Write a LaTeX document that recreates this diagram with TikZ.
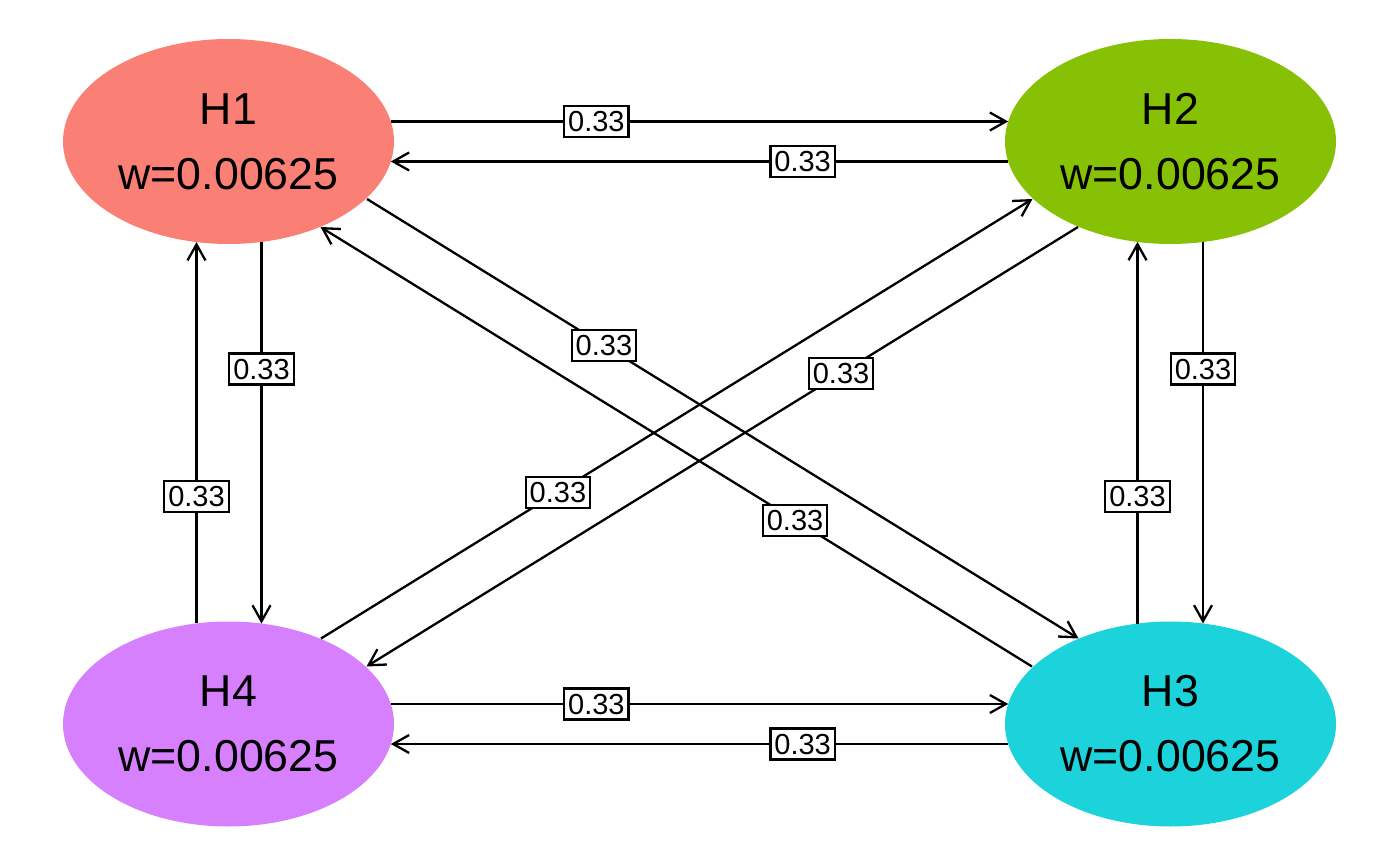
\documentclass[tikz,border=0pt]{standalone}
\usepackage{fontspec}
\setmainfont{Liberation Sans}
\usetikzlibrary{arrows.meta,shapes.geometric,calc}
\definecolor{cHa}{HTML}{FA8075}
\definecolor{cHb}{HTML}{86C106}
\definecolor{cHc}{HTML}{1DD3DB}
\definecolor{cHd}{HTML}{D780FD}
\begin{document}
\begin{tikzpicture}[x=1pt,y=-1pt,
  hyp/.style={ellipse, minimum width=331pt, minimum height=205pt, inner sep=0pt,
    outer sep=0pt, align=center, font=\fontsize{44.7pt}{65pt}\selectfont},
  edge/.style={line width=2.3pt, -{Straight Barb[length=16pt,width=18pt]}},
  lbl/.style={draw, line width=2.3pt, fill=white, inner xsep=4pt, inner ysep=4.5pt,
    text height=21.5pt, text depth=0.5pt, font=\fontsize{29pt}{29pt}\selectfont, pos=0.333}]
\useasboundingbox (0,0) rectangle (1400,866);
\node[hyp, fill=cHa] (H1) at (228.5,141.5) {H1\\w=0.00625};
\node[hyp, fill=cHb] (H2) at (1170.5,141.5) {H2\\w=0.00625};
\node[hyp, fill=cHc] (H3) at (1170.5,724) {H3\\w=0.00625};
\node[hyp, fill=cHd] (H4) at (228.5,724) {H4\\w=0.00625};
% horizontal
\draw[edge] ($(H1)+(162.3,-20)$) -- node[lbl] {0.33} ($(H2)+(-162.3,-20)$);
\draw[edge] ($(H2)+(-162.3,20)$) -- node[lbl] {0.33} ($(H1)+(162.3,20)$);
\draw[edge] ($(H4)+(162.3,-20)$) -- node[lbl] {0.33} ($(H3)+(-162.3,-20)$);
\draw[edge] ($(H3)+(-162.3,20)$) -- node[lbl] {0.33} ($(H4)+(162.3,20)$);
% vertical
\draw[edge] ($(H1)+(33,100.4)$) -- node[lbl] {0.33} ($(H4)+(33,-100.4)$);
\draw[edge] ($(H4)+(-32,-100.6)$) -- node[lbl] {0.33} ($(H1)+(-32,100.6)$);
\draw[edge] ($(H2)+(32.5,100.5)$) -- node[lbl] {0.33} ($(H3)+(32.5,-100.5)$);
\draw[edge] ($(H3)+(-33,-100.4)$) -- node[lbl] {0.33} ($(H2)+(-33,100.4)$);
% diagonal
\draw[edge] ($(H1)+(138.5,57.5)$) -- node[lbl] {0.33} ($(H3)+(-92,-85.5)$);
\draw[edge] ($(H3)+(-138.5,-57.5)$) -- node[lbl] {0.33} ($(H1)+(92,85.5)$);
\draw[edge] ($(H4)+(92.5,-85.5)$) -- node[lbl] {0.33} ($(H2)+(-138,57.5)$);
\draw[edge] ($(H2)+(-92.5,85.5)$) -- node[lbl] {0.33} ($(H4)+(138,-57.5)$);
\end{tikzpicture}
\end{document}
